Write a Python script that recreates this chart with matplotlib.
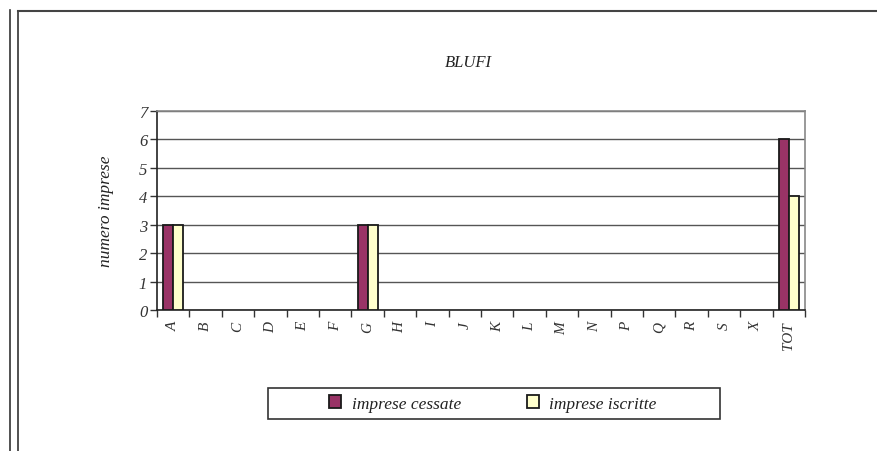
import matplotlib
matplotlib.use("Agg")
import matplotlib.pyplot as plt
import numpy as np
from matplotlib.lines import Line2D
from matplotlib.patches import Patch, Rectangle

categories = ["A", "B", "C", "D", "E", "F", "G", "H", "I", "J", "K", "L",
              "M", "N", "P", "Q", "R", "S", "X", "TOT"]
cessate = [3, 0, 0, 0, 0, 0, 3, 0, 0, 0, 0, 0, 0, 0, 0, 0, 0, 0, 0, 6]
iscritte = [3, 0, 0, 0, 0, 0, 3, 0, 0, 0, 0, 0, 0, 0, 0, 0, 0, 0, 0, 4]
y_ticks = list(range(0, 8))

plt.rcParams["font.family"] = ["Liberation Serif", "DejaVu Serif"]
plt.rcParams["font.style"] = "italic"

W, H = 877, 452
fig = plt.figure(figsize=(W / 100, H / 100), dpi=100)

# outer frame lines
fig.add_artist(Line2D([9.5 / W, 9.5 / W], [0, 1 - 11 / H], color="#333333", lw=1.2))
fig.add_artist(Line2D([17.5 / W, 17.5 / W], [0, 1 - 11.5 / H], color="#333333", lw=1.2))
fig.add_artist(Line2D([17.5 / W, 1], [1 - 11.5 / H, 1 - 11.5 / H], color="#444444", lw=1.5))

ax = fig.add_axes([157 / W, (H - 311) / H, (805 - 157) / W, (311 - 112) / H])

x = np.arange(len(categories))
bw = 0.31
# zero-valued bars are not drawn in the original
lw_c = [1.3 if v > 0 else 0 for v in cessate]
lw_i = [1.3 if v > 0 else 0 for v in iscritte]
ax.bar(x - bw / 2, cessate, bw, color="#993366", edgecolor="#1a1a1a", linewidth=lw_c,
       zorder=3)
ax.bar(x + bw / 2, iscritte, bw, color="#FFFFCC", edgecolor="#1a1a1a", linewidth=lw_i,
       zorder=3)

ax.set_xlim(-0.5, len(categories) - 0.5)
ax.set_ylim(0, 7)
ax.set_yticks(y_ticks)
ax.set_yticklabels([str(v) for v in y_ticks], fontsize=12, color="#333333")
ax.set_xticks(x)
ax.set_xticklabels(categories, rotation=90, fontsize=11, color="#333333")
ax.tick_params(axis="x", length=0, pad=8)
ax.set_xticks(np.arange(len(categories) + 1) - 0.5, minor=True)
ax.tick_params(axis="x", which="minor", length=5, width=1, color="#333333")
ax.tick_params(axis="y", length=5, width=1, color="#333333", pad=2)

ax.yaxis.grid(True, color="#555555", linewidth=1)
ax.set_axisbelow(True)
for side in ["left", "bottom"]:
    ax.spines[side].set_color("#222222")
    ax.spines[side].set_linewidth(1.2)
for side in ["top", "right"]:
    ax.spines[side].set_color("#888888")
    ax.spines[side].set_linewidth(1.2)

ax.set_ylabel("numero imprese", fontsize=12.5, color="#222222", labelpad=18)
fig.text(468 / W, 1 - 63 / H, "BLUFI", ha="center", va="center", fontsize=12,
         color="#222222")

# legend box drawn separately, wider than the entries
fig.add_artist(Rectangle((268 / W, 1 - 420 / H), (720 - 268) / W, (420 - 389) / H,
                         transform=fig.transFigure, fill=False,
                         edgecolor="#333333", linewidth=1.2))
handles = [Patch(facecolor="#993366", edgecolor="#1a1a1a", linewidth=1.3),
           Patch(facecolor="#FFFFCC", edgecolor="#1a1a1a", linewidth=1.3)]
leg = fig.legend(handles, ["imprese cessate", "imprese iscritte"], ncol=2,
                 loc="center", bbox_to_anchor=(493 / W, 1 - 404.5 / H),
                 fontsize=12.5, frameon=False, handlelength=0.7,
                 handleheight=0.7, handletextpad=0.6, columnspacing=3.8)
for t in leg.get_texts():
    t.set_color("#222222")

fig.savefig("out.png", dpi=100)
